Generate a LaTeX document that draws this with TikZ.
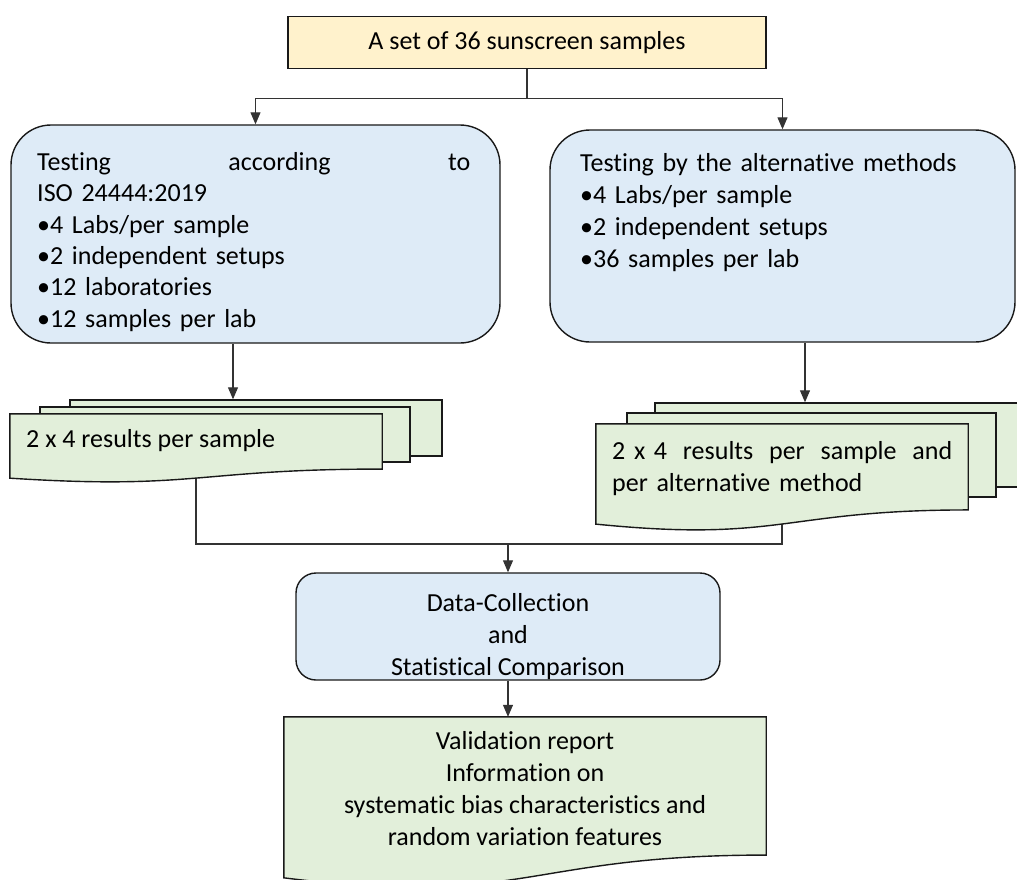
\documentclass[tikz,border=0pt]{standalone}
\usepackage{fontspec}
\setmainfont{Carlito}[Ligatures=NoCommon]
\usetikzlibrary{calc,arrows.meta}

\definecolor{setyellow}{HTML}{FFF2CC}
\definecolor{testblue}{HTML}{DEEBF7}
\definecolor{resgreen}{HTML}{E2EFDA}

% document shape with a wavy lower edge, drawn over a named node
\newcommand{\docsheet}[1]{%
  \draw[sheet] (#1.north west) -- (#1.north east)
    -- ($(#1.north east)!0.802!(#1.south east)$)
    .. controls ($(#1.north)!0.802!(#1.south)$) and ($(#1.north)!1.108!(#1.south)$)
    .. ($(#1.north west)!0.934!(#1.south west)$) -- cycle;}

\begin{document}
\begin{tikzpicture}[x=1pt,y=-1pt,
    every node/.style={font=\fontsize{26}{32}\selectfont},
    flowbox/.style={draw=black!90,line width=1.4pt,inner sep=0pt},
    setbox/.style={flowbox,fill=setyellow},
    testbox/.style={flowbox,fill=testblue,rounded corners=40pt},
    sheet/.style={draw=black!90,line width=1.4pt,fill=resgreen},
    backsheet/.style={sheet,inner sep=0pt},
    spot/.style={inner sep=0pt},
    txt/.style={inner sep=0pt,align=left},
    link/.style={draw=black!80,line width=1.1pt},
    flowarrow/.style={link,-{Triangle[width=10pt,length=12pt]}}]
\useasboundingbox (0,0) rectangle (1017,880);

\node[setbox,minimum width=478pt,minimum height=52pt] (set) at (527,42.5) {A set of 36 sunscreen samples};

\node[testbox,minimum width=489pt,minimum height=218pt] (iso) at (255.5,234) {};
\node[txt,text width=433pt,anchor=north west,font=\fontsize{26}{31.4}\selectfont] (isotext) at (37,152)
  {Testing\hfill according\hfill to\\ISO 24444:2019\\•4 Labs/per sample\\•2 independent setups\\•12 laboratories\\•12 samples per lab};

\node[testbox,minimum width=465pt,minimum height=212pt] (alt) at (782.5,236) {};
\node[txt,text width=420pt,anchor=north west] (alttext) at (580,153)
  {Testing by the alternative methods\\•4 Labs/per sample\\•2 independent setups\\•36 samples per lab};

% result stacks
\node[backsheet,minimum width=372pt,minimum height=56pt] (isoback) at (256,428) {};
\node[backsheet,minimum width=370pt,minimum height=55pt] (isomid) at (225,434.5) {};
\node[spot,minimum width=372pt,minimum height=68.5pt] (isores) at (196,448.25) {};

\node[backsheet,minimum width=375pt,minimum height=84pt] (altback) at (842.5,445) {};
\node[backsheet,minimum width=369pt,minimum height=84pt] (altmid) at (811.5,455) {};
\node[spot,minimum width=372pt,minimum height=107pt] (altres) at (782,477.5) {};

\node[testbox,rounded corners=20pt,minimum width=424pt,minimum height=107pt] (data) at (508,626.5) {};
\node[txt,align=center,anchor=north] (datatext) at (508,593) {Data-Collection\\and\\Statistical Comparison};

\node[spot,minimum width=482pt,minimum height=172pt] (report) at (525,803) {};

% connectors
\draw[flowarrow] (set.south) -- ++(0,29) coordinate (split) -| (iso.north);
\draw[flowarrow] (split) -| (alt.north);
\draw[flowarrow] ([xshift=-22.5pt]iso.south) -- ([xshift=-22.5pt]iso.south |- isoback.north);
\draw[flowarrow] ([xshift=22.5pt]alt.south) -- ([xshift=22.5pt]alt.south |- altback.north);
\coordinate (merge) at (508,544);
\draw[link] (isores.center) |- (merge) -| (altres.center);
\draw[flowarrow] (merge) -- (data.north);
\draw[flowarrow] (data.south) -- (data.south |- report.north);

\docsheet{isores}
\docsheet{altres}
\docsheet{report}

\node[txt,anchor=base west] (isorestext) at (26,447) {2 x 4 results per sample};
\node[txt,text width=340pt,anchor=north west] (altrestext) at (612,441)
  {2 x 4\hfill results\hfill per\hfill sample\hfill and\\per alternative method};
\node[txt,align=center,anchor=north] (reporttext) at (525,731)
  {Validation report\\Information on\\systematic bias characteristics and\\random variation features};
\end{tikzpicture}
\end{document}
